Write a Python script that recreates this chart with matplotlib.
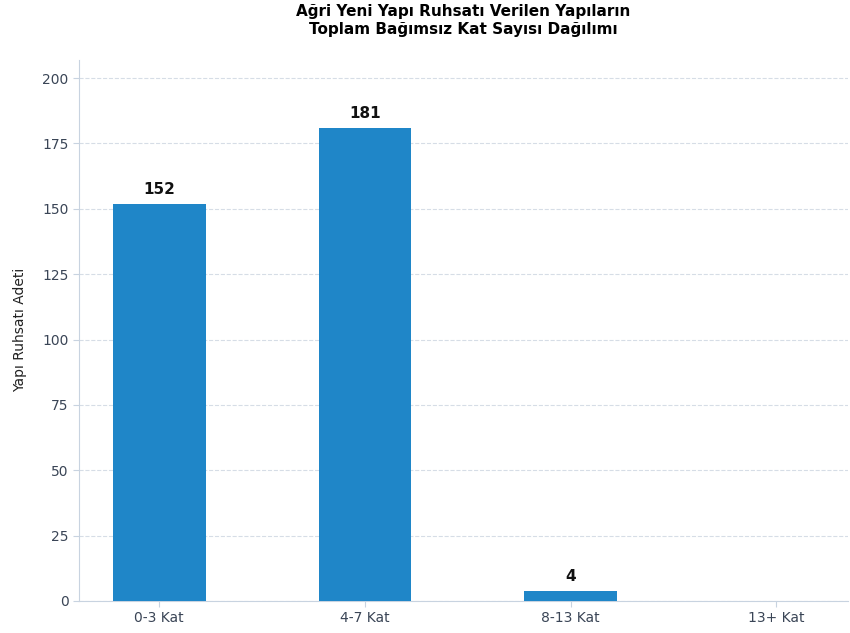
import matplotlib
matplotlib.use("Agg")
import matplotlib.pyplot as plt

categories = ["0-3 Kat", "4-7 Kat", "8-13 Kat", "13+ Kat"]
counts = [152, 181, 4, 0]
y_ticks = [0, 25, 50, 75, 100, 125, 150, 175, 200]

plt.rcParams['font.family'] = ['DejaVu Sans']

fig = plt.figure(figsize=(8.5, 6.33), dpi=100)
ax = fig.add_axes([0.093, 0.0506, 0.905, 0.855])

x = list(range(len(categories)))
bars = ax.bar(x, counts, width=0.45, color='#1f86c8', zorder=3)

for rect, val in zip(bars, counts):
    if val > 0:
        ax.text(rect.get_x() + rect.get_width() / 2, val + 2.5, str(val),
                ha='center', va='bottom', fontsize=11, fontweight='bold', color='#111111')

ax.set_xticks(x)
ax.set_xticklabels(categories, fontsize=10, color='#3a4556')
ax.set_yticks(y_ticks)
ax.tick_params(axis='y', labelsize=10, labelcolor='#3a4556', color='#c8d3e0', length=4)
ax.tick_params(axis='x', color='#c8d3e0', length=4)
ax.set_xlim(-0.39, 3.35)
ax.set_ylim(0, 207)
ax.set_ylabel("Yapı Ruhsatı Adeti", fontsize=10, color='#222222', labelpad=11)

ax.grid(axis='y', linestyle='--', color='#d6dde6', linewidth=0.8, zorder=0)
for side in ['top', 'right']:
    ax.spines[side].set_visible(False)
for side in ['left', 'bottom']:
    ax.spines[side].set_color('#c8d3e0')

fig.suptitle("Ağri Yeni Yapı Ruhsatı Verilen Yapıların\nToplam Bağımsız Kat Sayısı Dağılımı",
             fontsize=11, fontweight='bold', x=0.545, y=0.993, va='top')

fig.savefig("out.png", dpi=100)
